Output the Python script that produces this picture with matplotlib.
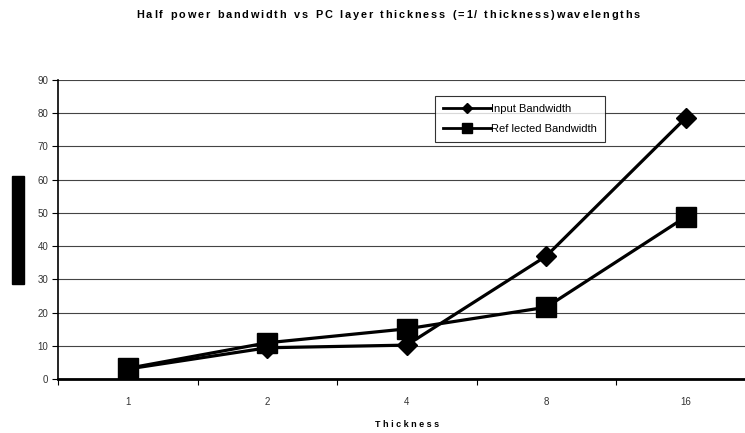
import matplotlib
matplotlib.use("Agg")
import matplotlib.pyplot as plt
from matplotlib.lines import Line2D
from matplotlib.patches import Rectangle

plt.rcParams['font.family'] = ['Liberation Sans', 'DejaVu Sans']

thickness = ["1", "2", "4", "8", "16"]
input_bw = [3.0, 9.4, 10.2, 37.0, 78.6]
reflected_bw = [3.2, 10.9, 15.1, 21.6, 48.8]
y_ticks = [0, 10, 20, 30, 40, 50, 60, 70, 80, 90]
title = "Half power bandwidth vs PC layer thickness (=1/ thickness)wavelengths"

W, H = 745, 433
fig = plt.figure(figsize=(W / 100, H / 100), dpi=100)
left, right, bottom, top = 58, 755.5, 379, 80
ax = fig.add_axes([left / W, 1 - bottom / H, (right - left) / W, (bottom - top) / H])

xs = list(range(len(thickness)))
ax.plot(xs, input_bw, color='black', lw=2.3, marker='D', ms=10, zorder=3)
ax.plot(xs, reflected_bw, color='black', lw=2.3, marker='s', ms=14.5, zorder=3)

ax.set_xlim(-0.5, len(thickness) - 0.5)
ax.set_ylim(0, 90)
ax.set_yticks(y_ticks)
ax.set_yticklabels([str(v) for v in y_ticks])
ax.set_xticks(xs)
ax.set_xticklabels(thickness)
ax.set_xticks([i + 0.5 for i in range(-1, len(thickness))], minor=True)
ax.tick_params(axis='x', which='major', length=0, pad=13, labelsize=7, colors='#333333')
ax.tick_params(axis='x', which='minor', length=4, width=0.8, direction='out', color='black')
ax.tick_params(axis='y', length=4, width=0.8, direction='out', labelsize=7, colors='#333333', pad=3)
ax.tick_params(axis='y', color='black')

ax.yaxis.grid(True, color='#444444', lw=0.8)
ax.set_axisbelow(True)
for s in ('top', 'right'):
    ax.spines[s].set_visible(False)
ax.spines['left'].set_linewidth(1.2)
ax.spines['bottom'].set_linewidth(2.0)

ax.set_xlabel("T h i c k n e s s", fontsize=6.5, fontweight='bold', labelpad=9)

handles = [
    Line2D([], [], color='black', lw=2.0, marker='D', ms=5),
    Line2D([], [], color='black', lw=2.0, marker='s', ms=6.5),
]
leg = ax.legend(handles, ["Input Bandwidth", "Ref lected Bandwidth"],
                loc='upper left', bbox_to_anchor=((435 - left) / (right - left), (bottom - 96) / (bottom - top)),
                fontsize=8, handlelength=4.3, handletextpad=0.05, borderpad=0.7,
                labelspacing=0.9, frameon=True, fancybox=False, borderaxespad=0)
leg.get_frame().set_edgecolor('black')
leg.get_frame().set_linewidth(0.8)

# title drawn with letter tracking
renderer = fig.canvas.get_renderer()
tprops = dict(fontsize=7.8, fontweight='bold', va='center', ha='left')
widths = []
for ch in title:
    t = fig.text(0, 0, ch if ch != ' ' else 'n', **tprops)
    w = t.get_window_extent(renderer).width
    widths.append(w * (0.6 if ch == ' ' else 1.0))
    t.remove()
tracking = 1.8
total = sum(widths) + tracking * (len(title) - 1)
x = 388 - total / 2
for ch, w in zip(title, widths):
    if ch != ' ':
        fig.text(x / W, 1 - 14.5 / H, ch, **tprops)
    x += w + tracking

fig.patches.append(Rectangle((12 / W, 1 - 284 / H), 12 / W, 108 / H,
                             transform=fig.transFigure, color='black'))

fig.savefig("out.png", dpi=100)
